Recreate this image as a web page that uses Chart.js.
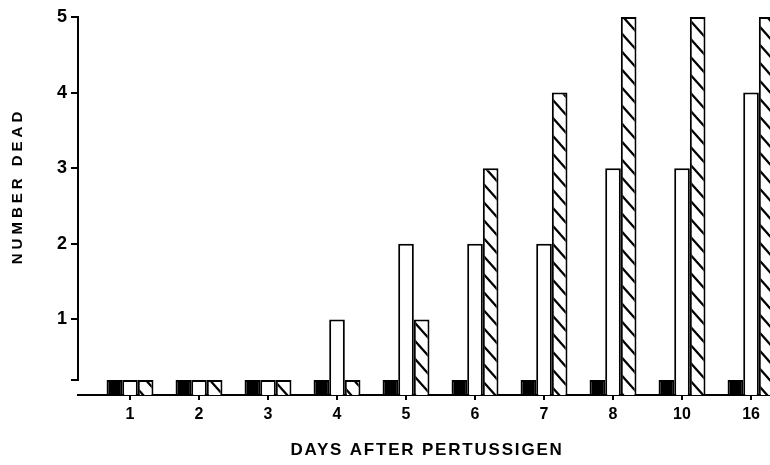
<!DOCTYPE html>
<html>
<head>
<meta charset="utf-8">
<script src="https://cdn.jsdelivr.net/npm/chart.js@4"></script>
<style>
  body { margin: 0; background: #fff; }
  canvas { display: block; }
</style>
</head>
<body>
<canvas id="deadChart" width="770" height="465"></canvas>
<script>
// данные с картинки
const days = ['1', '2', '3', '4', '5', '6', '7', '8', '10', '16'];
const deadBlack = [0, 0, 0, 0, 0, 0, 0, 0, 0, 0];
const deadWhite = [0, 0, 0, 1, 2, 2, 2, 3, 3, 4];
const deadHatched = [0, 0, 0, 0, 1, 3, 4, 5, 5, 5];
const yTickValues = [0.2, 1, 2, 3, 4, 5];

const FONT = 'Liberation Sans, Arial, sans-serif';

// штриховка "\" (чуть круче 45°)
function makeHatch() {
  const W = 16, H = 18;
  const tile = document.createElement('canvas');
  tile.width = W;
  tile.height = H;
  const t = tile.getContext('2d');
  t.fillStyle = '#fff';
  t.fillRect(0, 0, W, H);
  t.strokeStyle = '#000';
  t.lineWidth = 2.2;
  t.beginPath();
  for (const dx of [-W, 0, W]) {
    t.moveTo(dx - W, -H);
    t.lineTo(dx + 2 * W, 2 * H);
  }
  t.stroke();
  return t.createPattern(tile, 'repeat');
}

function toPoints(arr) {
  return arr.map((v, i) => ({ x: i + 1, y: v }));
}

// заголовок оси с разрядкой букв
function spacedTitle(scale, px, dx, dy) {
  if (scale._spaced) return;
  scale._spaced = true;
  const draw = scale.drawTitle;
  scale.drawTitle = function () {
    const c = this.ctx;
    c.save();
    c.letterSpacing = px + 'px';
    c.translate(dx, dy);
    draw.call(this);
    c.restore();
  };
}

// ось Y от 0.2 до 5, как в оригинале
const yAxisLine = {
  id: 'yAxisLine',
  afterDraw(chart) {
    const y = chart.scales.y;
    const ctx = chart.ctx;
    ctx.save();
    ctx.strokeStyle = '#000';
    ctx.lineWidth = 2;
    ctx.beginPath();
    ctx.moveTo(chart.chartArea.left, y.getPixelForValue(5) - 1);
    ctx.lineTo(chart.chartArea.left, y.getPixelForValue(0.2) + 1);
    ctx.stroke();
    ctx.restore();
  }
};

const common = {
  borderColor: '#000',
  borderWidth: 2,
  minBarLength: 15,
  categoryPercentage: 0.68,
  barPercentage: 1,
  clip: false
};

new Chart(document.getElementById('deadChart'), {
  type: 'bar',
  data: {
    datasets: [
      { ...common, label: 'black', data: toPoints(deadBlack), backgroundColor: '#000' },
      { ...common, label: 'white', data: toPoints(deadWhite), backgroundColor: '#fff' },
      { ...common, label: 'hatched', data: toPoints(deadHatched), backgroundColor: makeHatch() }
    ]
  },
  options: {
    responsive: false,
    animation: false,
    layout: { padding: { top: 17, left: 0, right: 0, bottom: 0 } },
    plugins: { legend: { display: false }, tooltip: { enabled: false } },
    scales: {
      x: {
        type: 'linear',
        offset: false,
        min: 0.2464,
        max: 10.275,
        afterBuildTicks: s => { s.ticks = days.map((d, i) => ({ value: i + 1 })); },
        afterFit: s => { s.height = 70; spacedTitle(s, 1.8, 3, 0); },
        grid: { offset: false, drawOnChartArea: false, color: '#000', lineWidth: 2, tickLength: 5 },
        border: { display: true, color: '#000', width: 2 },
        ticks: {
          color: '#000',
          padding: 5,
          maxRotation: 0,
          font: { family: FONT, size: 16, weight: 'bold' },
          callback: v => days[Math.round(v) - 1]
        },
        title: {
          display: true,
          text: 'DAYS AFTER PERTUSSIGEN',
          color: '#000',
          padding: { top: 0, bottom: 4 },
          font: { family: FONT, size: 17, weight: 'bold' }
        }
      },
      y: {
        min: 0,
        max: 5,
        afterBuildTicks: s => { s.ticks = yTickValues.map(v => ({ value: v })); },
        afterFit: s => { s.width = 78; spacedTitle(s, 4, 0, -20); },
        grid: { drawOnChartArea: false, color: '#000', lineWidth: 2, tickLength: 7 },
        border: { display: false },
        ticks: {
          color: '#000',
          padding: 4,
          font: { family: FONT, size: 18, weight: 'bold' },
          callback: v => (v === 0.2 ? '' : v)
        },
        title: {
          display: true,
          text: 'NUMBER DEAD',
          color: '#000',
          padding: { top: 9, bottom: 0 },
          font: { family: FONT, size: 15, weight: 'bold' }
        }
      }
    }
  },
  plugins: [yAxisLine]
});
</script>
</body>
</html>
